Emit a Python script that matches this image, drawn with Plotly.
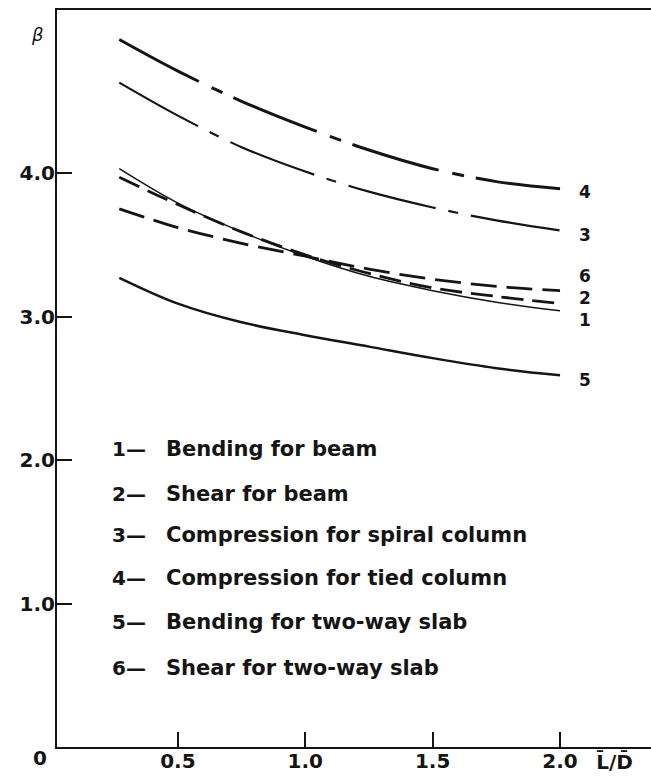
import plotly.graph_objects as go

# L/D ratio sampled along each curve
x_ld = [0.27, 0.5, 0.75, 1.0, 1.25, 1.5, 1.75, 2.0]

# Reliability index beta for each member / failure mode
beta_bending_beam = [4.03, 3.79, 3.59, 3.42, 3.28, 3.18, 3.10, 3.04]
beta_shear_beam = [3.97, 3.78, 3.59, 3.43, 3.30, 3.20, 3.14, 3.09]
beta_comp_spiral = [4.63, 4.40, 4.18, 4.01, 3.87, 3.76, 3.67, 3.60]
beta_comp_tied = [4.93, 4.71, 4.50, 4.32, 4.16, 4.03, 3.94, 3.89]
beta_bending_slab = [3.27, 3.09, 2.96, 2.87, 2.79, 2.71, 2.64, 2.59]
beta_shear_slab = [3.75, 3.62, 3.51, 3.42, 3.33, 3.26, 3.21, 3.18]

curve_numbers = ["1", "2", "3", "4", "5", "6"]
curve_names = [
    "Bending for beam",
    "Shear for beam",
    "Compression for spiral column",
    "Compression for tied column",
    "Bending for two-way slab",
    "Shear for two-way slab",
]
curve_values = [
    beta_bending_beam,
    beta_shear_beam,
    beta_comp_spiral,
    beta_comp_tied,
    beta_bending_slab,
    beta_shear_slab,
]

x_tick_vals = [0.5, 1.0, 1.5, 2.0]
x_tick_text = ["0.5", "1.0", "1.5", "2.0"]
y_tick_vals = [1.0, 2.0, 3.0, 4.0]
y_tick_text = ["1.0", "2.0", "3.0", "4.0"]

INK = "#151515"
FONT = "DejaVu Sans"

# line styling per curve
styles = {
    "1": dict(width=1.5, dash="solid"),
    "2": dict(width=2.8, dash="22px,9px"),
    "3": dict(width=2.2, dash="90px,13px,10px,13px"),
    "4": dict(width=3.0, dash="90px,14px,12px,12px"),
    "5": dict(width=2.5, dash="solid"),
    "6": dict(width=2.8, dash="26px,10px"),
}

# vertical position of each curve's end label
end_label_y = {"4": 3.87, "3": 3.57, "6": 3.285, "2": 3.13, "1": 2.975, "5": 2.56}
# rows of the key below the curves
key_rows_y = [2.08, 1.76, 1.48, 1.18, 0.87, 0.55]

fig = go.Figure()

for num, name, vals in zip(curve_numbers, curve_names, curve_values):
    st = styles[num]
    fig.add_trace(
        go.Scatter(
            x=x_ld,
            y=vals,
            mode="lines",
            name=f"{num} - {name}",
            line=dict(color=INK, width=st["width"], dash=st["dash"],
                      shape="spline", smoothing=1.0),
            showlegend=False,
        )
    )

annotations = []

# curve numbers at the right-hand ends
for num in curve_numbers:
    annotations.append(dict(
        x=2.098, y=end_label_y[num], xref="x", yref="y",
        text=num, showarrow=False, borderpad=0,
        font=dict(family=FONT, size=17, color=INK, weight="bold"),
        xanchor="center", yanchor="middle",
    ))

# key
for num, name, yy in zip(curve_numbers, curve_names, key_rows_y):
    annotations.append(dict(
        x=0.234, y=yy, xref="x", yref="y",
        text=f"{num}—", showarrow=False,
        font=dict(family=FONT, size=20, color=INK, weight="bold"),
        xanchor="left", yanchor="middle",
    ))
    annotations.append(dict(
        x=0.445, y=yy, xref="x", yref="y",
        text=name, showarrow=False,
        font=dict(family=FONT, size=21, color=INK, weight="bold"),
        xanchor="left", yanchor="middle",
    ))

# axis titles and origin label (placed in paper space, outside the plot area)
annotations.append(dict(
    x=-0.032, y=0.967, xref="paper", yref="paper", text="<i>β</i>",
    showarrow=False, font=dict(family=FONT, size=18, color=INK),
    xanchor="center", yanchor="middle",
))
annotations.append(dict(
    x=-0.0286, y=-0.0149, xref="paper", yref="paper", text="0",
    showarrow=False, font=dict(family=FONT, size=20, color=INK, weight="bold"),
    xanchor="center", yanchor="middle",
))
annotations.append(dict(
    x=0.939, y=-0.0204, xref="paper", yref="paper", text="L̄/D̄",
    showarrow=False, font=dict(family=FONT, size=20, color=INK, weight="bold"),
    xanchor="center", yanchor="middle",
))

fig.update_layout(
    width=651,
    height=778,
    margin=dict(l=57, r=0, t=10, b=31),
    paper_bgcolor="white",
    plot_bgcolor="white",
    annotations=annotations,
    xaxis=dict(
        range=[0.0255, 2.357],
        showgrid=False, zeroline=False,
        showline=True, linecolor=INK, linewidth=2, mirror=True,
        ticks="inside", ticklen=15, tickwidth=1.5, tickcolor=INK,
        tickvals=x_tick_vals, ticktext=x_tick_text,
        ticklabelstandoff=-5,
        tickfont=dict(family=FONT, size=20, color=INK, weight="bold"),
    ),
    yaxis=dict(
        range=[0, 5.136],
        showgrid=False, zeroline=False,
        showline=True, linecolor=INK, linewidth=2, mirror=False,
        ticks="inside", ticklen=15, tickwidth=1.5, tickcolor=INK,
        tickvals=y_tick_vals, ticktext=y_tick_text,
        ticklabelstandoff=-4,
        tickfont=dict(family=FONT, size=20, color=INK, weight="bold"),
    ),
)

fig.write_html("out.html")
